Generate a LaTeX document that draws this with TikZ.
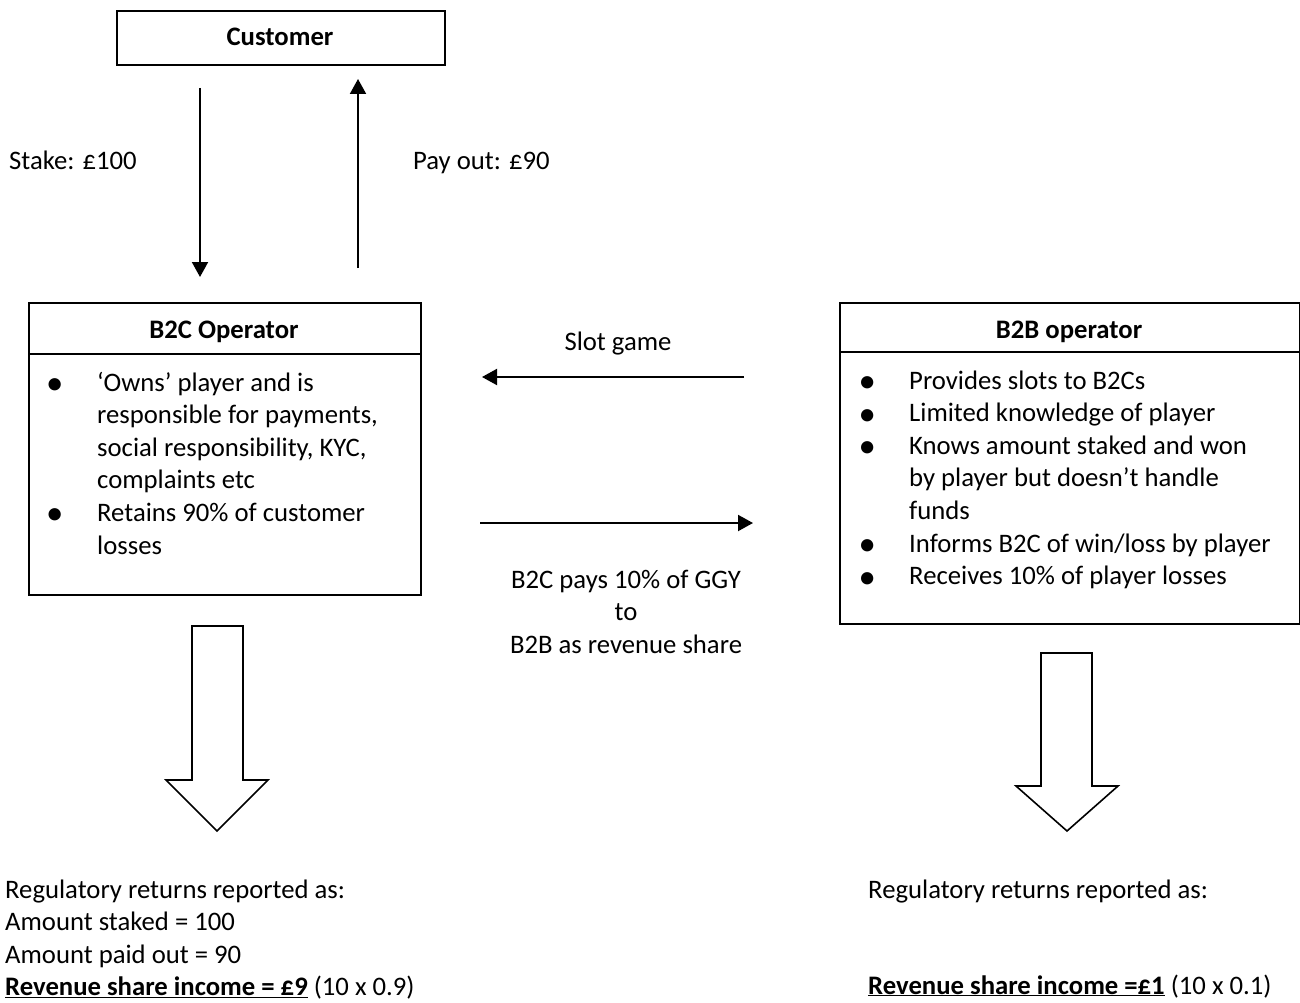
\documentclass[tikz,border=0pt]{standalone}
\usepackage{fontspec}
\setmainfont{Carlito}
\usetikzlibrary{arrows.meta}
\newcommand\bul{\makebox[0pt]{\smash{\raisebox{-3.5pt}{\scalebox{1.3}{\textbullet}}}}}
\begin{document}
\begin{tikzpicture}[x=1pt,y=-1pt,
  box/.style={draw, line width=2pt, inner sep=0pt, anchor=north west},
  txt/.style={inner sep=0pt, anchor=base west, font=\fontsize{26.7}{32.6}\selectfont},
  ttl/.style={inner sep=0pt, anchor=base, font=\fontsize{26.7}{32.6}\selectfont\bfseries},
  arr/.style={line width=2pt, -{Triangle[length=15pt,width=16pt]}},
  blk/.style={draw, line width=1.6pt, fill=white, line join=miter}]
\useasboundingbox (0,0) rectangle (1300,1003);

% Customer
\node[box, minimum width=328pt, minimum height=54pt] (cust) at (116,10) {};
\node[ttl] (custt) at (280,45.5) {Customer};

% B2C operator box
\node[box, minimum width=392pt, minimum height=51pt] (b2chead) at (28,302) {};
\node[box, minimum width=392pt, minimum height=241pt] (b2cbody) at (28,353) {};
\node[ttl] (b2ct) at (224,338) {B2C Operator};
\node[txt] (b2ctext) at (54.5,391) {\begin{tabular}[t]{@{}p{42.5pt}@{}l@{}}
\bul & ‘Owns’ player and is\\
 & responsible for payments,\\
 & social responsibility, KYC,\\
 & complaints etc\\
\bul & Retains 90\% of customer\\
 & losses
\end{tabular}};

% B2B operator box
\node[box, minimum width=460pt, minimum height=49pt] (b2bhead) at (839,302) {};
\node[box, minimum width=460pt, minimum height=272pt] (b2bbody) at (839,351) {};
\node[ttl] (b2bt) at (1069,338) {B2B operator};
\node[txt] (b2btext) at (867,389) {\begin{tabular}[t]{@{}p{42pt}@{}l@{}}
\bul & Provides slots to B2Cs\\
\bul & Limited knowledge of player\\
\bul & Knows amount staked and won\\
 & by player but doesn’t handle\\
 & funds\\
\bul & Informs B2C of win/loss by player\\
\bul & Receives 10\% of player losses
\end{tabular}};

% Customer arrows
\coordinate (stakeA) at (200,88);
\coordinate (stakeB) at (200,277);
\coordinate (payA) at (358,268);
\coordinate (payB) at (358,79);
\draw[arr] (stakeA) -- (stakeB);
\draw[arr] (payA) -- (payB);
\node[txt] (stake) at (9,170) {Stake: £100};
\node[txt] (payout) at (413,170) {Pay out: £90};

% Middle arrows
\coordinate (slotA) at (744,377);
\coordinate (slotB) at (482,377);
\coordinate (revA) at (480,523);
\coordinate (revB) at (753,523);
\draw[arr] (slotA) -- (slotB);
\draw[arr] (revA) -- (revB);
\node[txt, anchor=base] (slot) at (618,350) {Slot game};
\node[txt, anchor=base] (pays) at (626,588) {\begin{tabular}[t]{@{}c@{}}B2C pays 10\% of GGY\\ to\\ B2B as revenue share\end{tabular}};

% Block arrows
\draw[blk] (192,626) -- (243,626) -- (243,780) -- (268,780) -- (217,831) -- (166,780) -- (192,780) -- cycle;
\draw[blk] (1041,653) -- (1092,653) -- (1092,786) -- (1118,786) -- (1067,831) -- (1016,786) -- (1041,786) -- cycle;

% Bottom texts
\node[txt] (regl) at (5,898) {\begin{tabular}[t]{@{}l@{}}Regulatory returns reported as:\\
Amount staked = 100\\
Amount paid out = 90\\
\textbf{\underline{Revenue share income = £9}} (10 x 0.9)\end{tabular}};
\node[txt] (regr) at (868,898) {Regulatory returns reported as:};
\node[txt] (regr2) at (868,994) {\textbf{\underline{Revenue share income =£1}} (10 x 0.1)};
\end{tikzpicture}
\end{document}
